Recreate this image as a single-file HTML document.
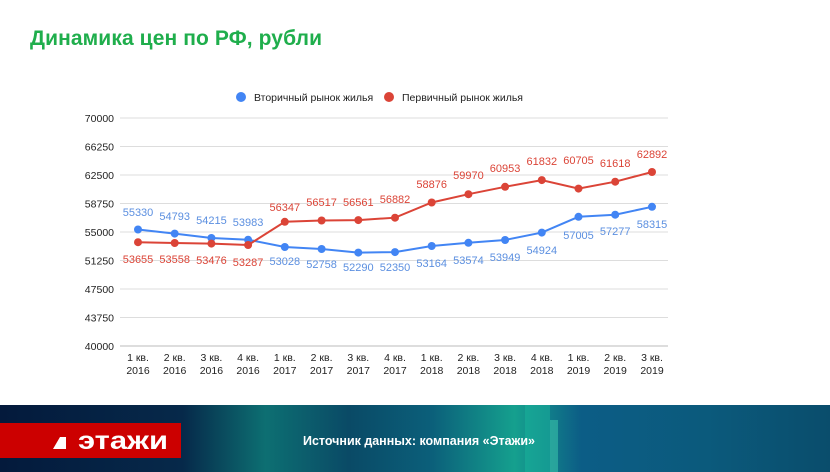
<!DOCTYPE html>
<html><head><meta charset="utf-8"><style>
html,body{margin:0;padding:0;background:#fff;width:830px;height:472px;overflow:hidden}
svg{display:block}
</style></head><body>
<svg width="830" height="472" viewBox="0 0 830 472" xmlns="http://www.w3.org/2000/svg" font-family="Liberation Sans, sans-serif">
<defs>
<linearGradient id="bg" x1="0" x2="1" y1="0" y2="0">
<stop offset="0" stop-color="#041a3c"/>
<stop offset="0.22" stop-color="#06294a"/>
<stop offset="0.32" stop-color="#0d6f72"/>
<stop offset="0.42" stop-color="#0a4a66"/>
<stop offset="0.52" stop-color="#0b5f7a"/>
<stop offset="0.62" stop-color="#15a08e"/>
<stop offset="0.7" stop-color="#0c5d86"/>
<stop offset="0.85" stop-color="#0b5a7c"/>
<stop offset="1" stop-color="#0a4d6c"/>
</linearGradient>
</defs>
<text x="30" y="45" font-size="21" font-weight="bold" fill="#1fae4c" textLength="292">Динамика цен по РФ, рубли</text>
<circle cx="241" cy="97" r="5" fill="#4285f4"/>
<text x="254" y="101" font-size="10.5" fill="#222">Вторичный рынок жилья</text>
<circle cx="389" cy="97" r="5" fill="#db4437"/>
<text x="402" y="101" font-size="10.5" fill="#222">Первичный рынок жилья</text>
<g stroke="#ddd" stroke-width="1">
<line x1="120" x2="668" y1="118" y2="118"/><line x1="120" x2="668" y1="146.5" y2="146.5"/>
<line x1="120" x2="668" y1="175" y2="175"/><line x1="120" x2="668" y1="203.5" y2="203.5"/>
<line x1="120" x2="668" y1="232" y2="232"/><line x1="120" x2="668" y1="260.5" y2="260.5"/>
<line x1="120" x2="668" y1="289" y2="289"/><line x1="120" x2="668" y1="317.5" y2="317.5"/>
</g>
<line x1="120" x2="668" y1="346" y2="346" stroke="#bbb"/>
<g font-size="10.5" fill="#222" text-anchor="end">
<text x="114" y="122">70000</text><text x="114" y="150.5">66250</text><text x="114" y="179">62500</text>
<text x="114" y="207.5">58750</text><text x="114" y="236">55000</text><text x="114" y="264.5">51250</text>
<text x="114" y="293">47500</text><text x="114" y="321.5">43750</text><text x="114" y="350">40000</text>
</g>
<g font-size="10.5" fill="#222" text-anchor="middle">
<text x="138" y="361">1 кв.</text><text x="138" y="374">2016</text>
<text x="174.7" y="361">2 кв.</text><text x="174.7" y="374">2016</text>
<text x="211.4" y="361">3 кв.</text><text x="211.4" y="374">2016</text>
<text x="248.1" y="361">4 кв.</text><text x="248.1" y="374">2016</text>
<text x="284.8" y="361">1 кв.</text><text x="284.8" y="374">2017</text>
<text x="321.6" y="361">2 кв.</text><text x="321.6" y="374">2017</text>
<text x="358.3" y="361">3 кв.</text><text x="358.3" y="374">2017</text>
<text x="395" y="361">4 кв.</text><text x="395" y="374">2017</text>
<text x="431.7" y="361">1 кв.</text><text x="431.7" y="374">2018</text>
<text x="468.4" y="361">2 кв.</text><text x="468.4" y="374">2018</text>
<text x="505.1" y="361">3 кв.</text><text x="505.1" y="374">2018</text>
<text x="541.8" y="361">4 кв.</text><text x="541.8" y="374">2018</text>
<text x="578.5" y="361">1 кв.</text><text x="578.5" y="374">2019</text>
<text x="615.2" y="361">2 кв.</text><text x="615.2" y="374">2019</text>
<text x="652" y="361">3 кв.</text><text x="652" y="374">2019</text>
</g>
<polyline fill="none" stroke="#4285f4" stroke-width="2" points="138,229.5 174.7,233.6 211.4,238 248.1,239.7 284.8,247 321.6,249 358.3,252.6 395,252.1 431.7,246 468.4,242.8 505.1,240 541.8,232.6 578.5,216.8 615.2,214.7 652,206.8"/>
<polyline fill="none" stroke="#db4437" stroke-width="2" points="138,242.2 174.7,243 211.4,243.6 248.1,245 284.8,221.8 321.6,220.5 358.3,220.1 395,217.7 431.7,202.5 468.4,194.2 505.1,186.8 541.8,180.1 578.5,188.6 615.2,181.7 652,172"/>
<g fill="#4285f4">
<circle cx="138" cy="229.5" r="4"/><circle cx="174.7" cy="233.6" r="4"/><circle cx="211.4" cy="238" r="4"/><circle cx="248.1" cy="239.7" r="4"/><circle cx="284.8" cy="247" r="4"/><circle cx="321.6" cy="249" r="4"/><circle cx="358.3" cy="252.6" r="4"/><circle cx="395" cy="252.1" r="4"/><circle cx="431.7" cy="246" r="4"/><circle cx="468.4" cy="242.8" r="4"/><circle cx="505.1" cy="240" r="4"/><circle cx="541.8" cy="232.6" r="4"/><circle cx="578.5" cy="216.8" r="4"/><circle cx="615.2" cy="214.7" r="4"/><circle cx="652" cy="206.8" r="4"/>
</g>
<g fill="#db4437">
<circle cx="138" cy="242.2" r="4"/><circle cx="174.7" cy="243" r="4"/><circle cx="211.4" cy="243.6" r="4"/><circle cx="248.1" cy="245" r="4"/><circle cx="284.8" cy="221.8" r="4"/><circle cx="321.6" cy="220.5" r="4"/><circle cx="358.3" cy="220.1" r="4"/><circle cx="395" cy="217.7" r="4"/><circle cx="431.7" cy="202.5" r="4"/><circle cx="468.4" cy="194.2" r="4"/><circle cx="505.1" cy="186.8" r="4"/><circle cx="541.8" cy="180.1" r="4"/><circle cx="578.5" cy="188.6" r="4"/><circle cx="615.2" cy="181.7" r="4"/><circle cx="652" cy="172" r="4"/>
</g>
<g font-size="11" fill="#5b8fe0" text-anchor="middle">
<text x="138" y="216">55330</text><text x="174.7" y="220">54793</text><text x="211.4" y="224">54215</text><text x="248.1" y="226">53983</text>
<text x="284.8" y="265">53028</text><text x="321.6" y="268">52758</text><text x="358.3" y="271">52290</text><text x="395" y="271">52350</text>
<text x="431.7" y="267">53164</text><text x="468.4" y="264">53574</text><text x="505.1" y="261">53949</text><text x="541.8" y="254">54924</text>
<text x="578.5" y="239">57005</text><text x="615.2" y="235">57277</text><text x="652" y="228">58315</text>
</g>
<g font-size="11" fill="#db4437" text-anchor="middle">
<text x="138" y="263">53655</text><text x="174.7" y="263">53558</text><text x="211.4" y="264">53476</text><text x="248.1" y="266">53287</text>
<text x="284.8" y="211">56347</text><text x="321.6" y="206">56517</text><text x="358.3" y="206">56561</text><text x="395" y="203">56882</text>
<text x="431.7" y="188">58876</text><text x="468.4" y="179">59970</text><text x="505.1" y="172">60953</text><text x="541.8" y="165">61832</text>
<text x="578.5" y="164">60705</text><text x="615.2" y="167">61618</text><text x="652" y="158">62892</text>
</g>
<rect x="0" y="405" width="830" height="67" fill="url(#bg)"/>
<rect x="525" y="405" width="25" height="67" fill="#1ab39b" opacity="0.55"/>
<rect x="550" y="420" width="8" height="52" fill="#3fd0b0" opacity="0.5"/>
<rect x="0" y="423" width="181" height="35" fill="#cc0000"/>
<polygon points="53,449 60,437 66,437 66,449" fill="#fff"/>
<text x="78" y="449" font-size="25" font-weight="bold" fill="#fff" textLength="90" lengthAdjust="spacingAndGlyphs">этажи</text>
<text x="303" y="445" font-size="13" font-weight="bold" fill="#fff" textLength="232" lengthAdjust="spacingAndGlyphs">Источник данных: компания «Этажи»</text>
</svg>
</body></html>
